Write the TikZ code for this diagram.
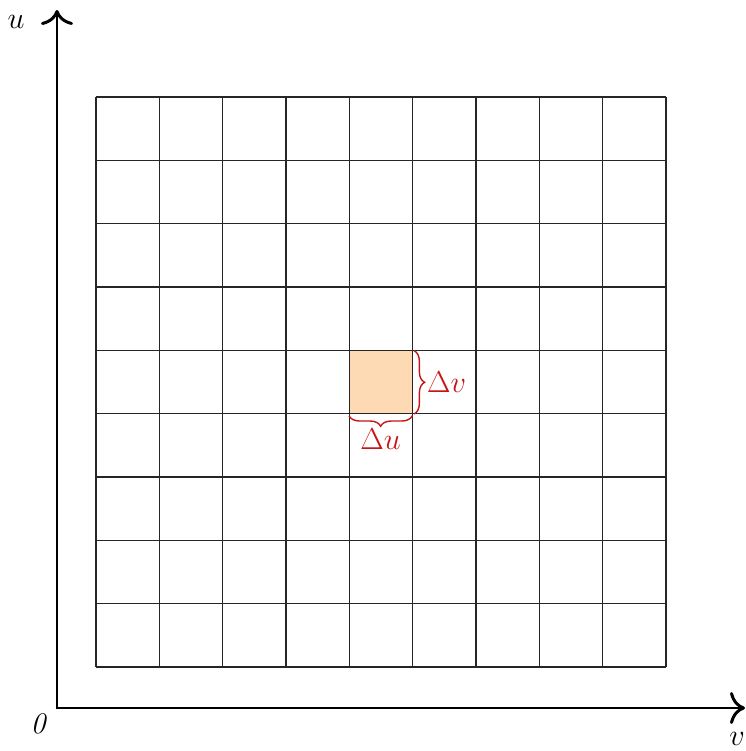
\documentclass[tikz,border=0pt]{standalone}
\usepackage{tikz}
\usetikzlibrary{arrows.meta,positioning,decorations.pathreplacing}
\definecolor{bracered}{RGB}{200,20,20}
\definecolor{cellfill}{RGB}{253,218,180}
\tikzset{
  axis/.style={line width=1.7pt, -{To[length=3mm, width=6.4mm]}},
  gridline/.style={line width=0.8pt, black!85},
  cellbox/.style={fill=cellfill, draw=none, minimum size=1.2667cm, inner sep=0pt, outer sep=0pt},
  brc/.style={bracered, line width=0.8pt, decorate, decoration={brace, amplitude=6pt}},
  lbl/.style={font=\fontsize{17}{20}\selectfont},
  rlbl/.style={lbl, text=bracered},
}

\begin{document}
\begin{tikzpicture}[x=0.02cm, y=0.02cm]
\useasboundingbox (0,0) rectangle (746,751);

% highlighted cell
\node[cellbox] (cell) at (380.67,368.67) {};

% grid
\foreach \i in {0,...,9} {
  \draw[gridline] ({96+\i*63.333},84) -- ({96+\i*63.333},654);
  \draw[gridline] (96,{84+\i*63.333}) -- (666,{84+\i*63.333});
}

% axes
\coordinate (origin) at (57,43);
\coordinate (uend) at (57,741);
\coordinate (vend) at (745,43);
\draw[axis] ([yshift=-0.85pt]origin) -- (uend);
\draw[axis] ([xshift=-0.85pt]origin) -- (vend);
\node[lbl] (ulab) at (16,729) {$u$};
\node[lbl] (olab) at (38,27) {\itshape 0};
\node[lbl, inner sep=1pt] (vlab) at (737,12) {$v$};

% increments
\draw[brc] ([xshift=1pt]cell.north east) -- ([xshift=1pt]cell.south east)
  node[midway, right=6pt, rlbl, inner sep=1pt] (dv) {$\Delta v$};
\draw[brc] ([yshift=-1pt]cell.south east) -- ([yshift=-1pt]cell.south west)
  node[midway, below=6pt, rlbl, inner sep=1pt] (du) {$\Delta u$};

\end{tikzpicture}
\end{document}
